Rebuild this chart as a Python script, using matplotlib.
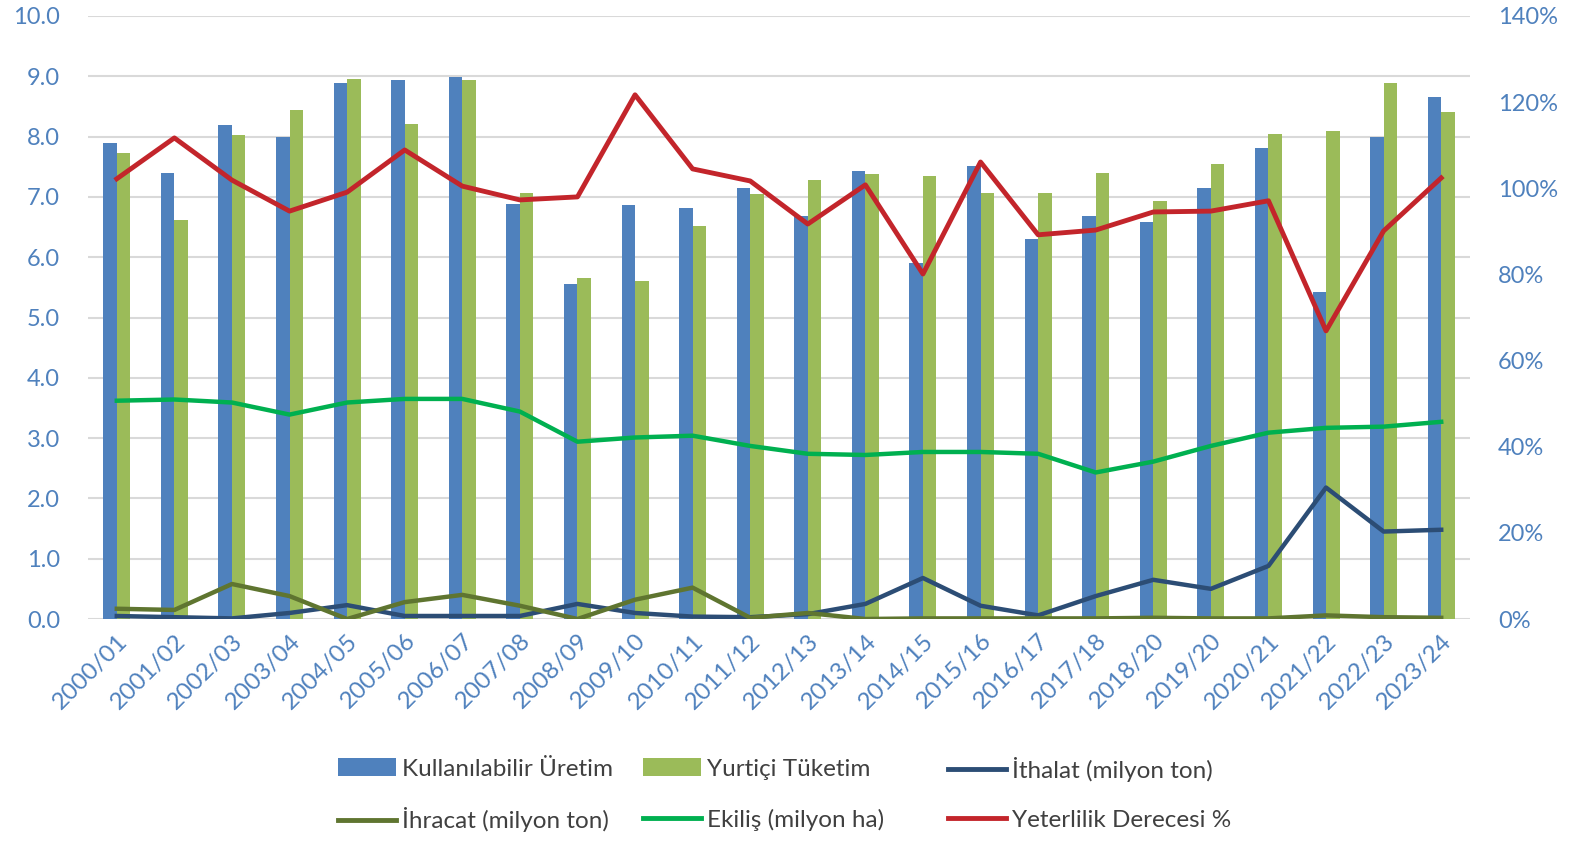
import matplotlib
matplotlib.use("Agg")
import matplotlib.pyplot as plt
import numpy as np
from matplotlib.ticker import FuncFormatter, MultipleLocator

categories = ["2000/01", "2001/02", "2002/03", "2003/04", "2004/05", "2005/06",
              "2006/07", "2007/08", "2008/09", "2009/10", "2010/11", "2011/12",
              "2012/13", "2013/14", "2014/15", "2015/16", "2016/17", "2017/18",
              "2018/20", "2019/20", "2020/21", "2021/22", "2022/23", "2023/24"]

uretim = [7.89, 7.39, 8.19, 8.00, 8.89, 8.94, 8.99, 6.88, 5.56, 6.86, 6.81, 7.14,
          6.68, 7.43, 5.91, 7.52, 6.31, 6.68, 6.58, 7.14, 7.81, 5.42, 7.99, 8.65]
tuketim = [7.72, 6.61, 8.02, 8.44, 8.95, 8.21, 8.94, 7.06, 5.66, 5.61, 6.51, 7.04,
           7.28, 7.38, 7.34, 7.06, 7.06, 7.39, 6.94, 7.54, 8.04, 8.09, 8.89, 8.41]
ithalat = [0.05, 0.03, 0.01, 0.10, 0.23, 0.05, 0.05, 0.05, 0.25, 0.10, 0.04, 0.03,
           0.08, 0.25, 0.68, 0.22, 0.06, 0.38, 0.65, 0.50, 0.88, 2.18, 1.45, 1.48]
ihracat = [0.17, 0.15, 0.58, 0.38, 0.00, 0.28, 0.40, 0.22, 0.00, 0.32, 0.52, 0.02,
           0.10, 0.00, 0.01, 0.01, 0.01, 0.01, 0.02, 0.01, 0.01, 0.06, 0.03, 0.02]
ekilis = [3.62, 3.64, 3.59, 3.39, 3.59, 3.65, 3.65, 3.44, 2.94, 3.01, 3.04, 2.87,
          2.74, 2.72, 2.77, 2.77, 2.74, 2.43, 2.61, 2.87, 3.09, 3.17, 3.19, 3.27]
yeterlilik = [102.2, 111.7, 101.9, 94.7, 99.1, 108.9, 100.5, 97.3, 98.0, 121.7,
              104.5, 101.7, 91.7, 100.8, 80.1, 106.1, 89.2, 90.3, 94.5, 94.7,
              97.1, 66.9, 90.1, 102.4]

labels = ["Kullanılabilir Üretim", "Yurtiçi Tüketim", "İthalat (milyon ton)",
          "İhracat (milyon ton)", "Ekiliş (milyon ha)", "Yeterlilik Derecesi %"]

C_BLUE = "#4F81BD"
C_GREEN = "#9BBB59"
C_IMP = "#2C4D75"
C_EXP = "#5F7530"
C_EK = "#00B050"
C_RED = "#C3252B"
TICK_C = "#4F81BD"
TXT_C = "#404040"

plt.rcParams['font.family'] = ['Lato', 'DejaVu Sans']

fig = plt.figure(figsize=(15.72, 8.41), dpi=100)
ax = fig.add_axes([88/1572, 1-619/841, (1470-88)/1572, (619-16)/841])
ax2 = ax.twinx()

x = np.arange(len(categories))
w = 0.235
b1 = ax.bar(x - w/2, uretim, w, color=C_BLUE, zorder=2)
b2 = ax.bar(x + w/2, tuketim, w, color=C_GREEN, zorder=2)
l1, = ax.plot(x, ithalat, color=C_IMP, lw=3.2, zorder=3, solid_joinstyle='round')
l2, = ax.plot(x, ihracat, color=C_EXP, lw=3.2, zorder=3, solid_joinstyle='round')
l3, = ax.plot(x, ekilis, color=C_EK, lw=3.2, zorder=3, solid_joinstyle='round')
l4, = ax2.plot(x, yeterlilik, color=C_RED, lw=3.5, zorder=3, solid_joinstyle='round')

ax.set_xlim(-0.5, len(categories) - 0.5)
ax.set_ylim(0, 10)
ax2.set_ylim(0, 140)
ax.yaxis.set_major_locator(MultipleLocator(1.0))
ax2.yaxis.set_major_locator(MultipleLocator(20))
ax.yaxis.set_major_formatter(FuncFormatter(lambda v, p: f"{v:.1f}"))
ax2.yaxis.set_major_formatter(FuncFormatter(lambda v, p: f"{v:.0f}%"))

ax.grid(axis='y', color='#D9D9D9', lw=1.5, zorder=0)
ax.set_axisbelow(True)
for a in (ax, ax2):
    for s in a.spines.values():
        s.set_visible(False)
    a.tick_params(length=0, labelsize=17, labelcolor=TICK_C)
ax.tick_params(axis='y', pad=20)
ax2.tick_params(axis='y', pad=20)

ax.set_xticks(x)
ax.set_xticklabels(categories, rotation=45, ha='right', va='top',
                   rotation_mode='anchor')
ax.tick_params(axis='x', pad=8, labelsize=17.5)

handles = [b1, b2, l1, l2, l3, l4]
col_x = [338/1572, 643/1572, 948/1572]
row_y = [1 - 769/841, 1 - 820/841]
for i, (h, lab) in enumerate(zip(handles, labels)):
    c = i % 3
    r = i // 3
    leg = fig.legend([h], [lab], loc='center left',
                     bbox_to_anchor=(col_x[c], row_y[r]),
                     frameon=False, fontsize=17.5, handlelength=2.4,
                     handleheight=0.75, handletextpad=0.25,
                     borderpad=0, borderaxespad=0)
    for t in leg.get_texts():
        t.set_color(TXT_C)
    for lh in leg.get_lines():
        lh.set_linewidth(3.5)

fig.savefig("out.png", dpi=100)
